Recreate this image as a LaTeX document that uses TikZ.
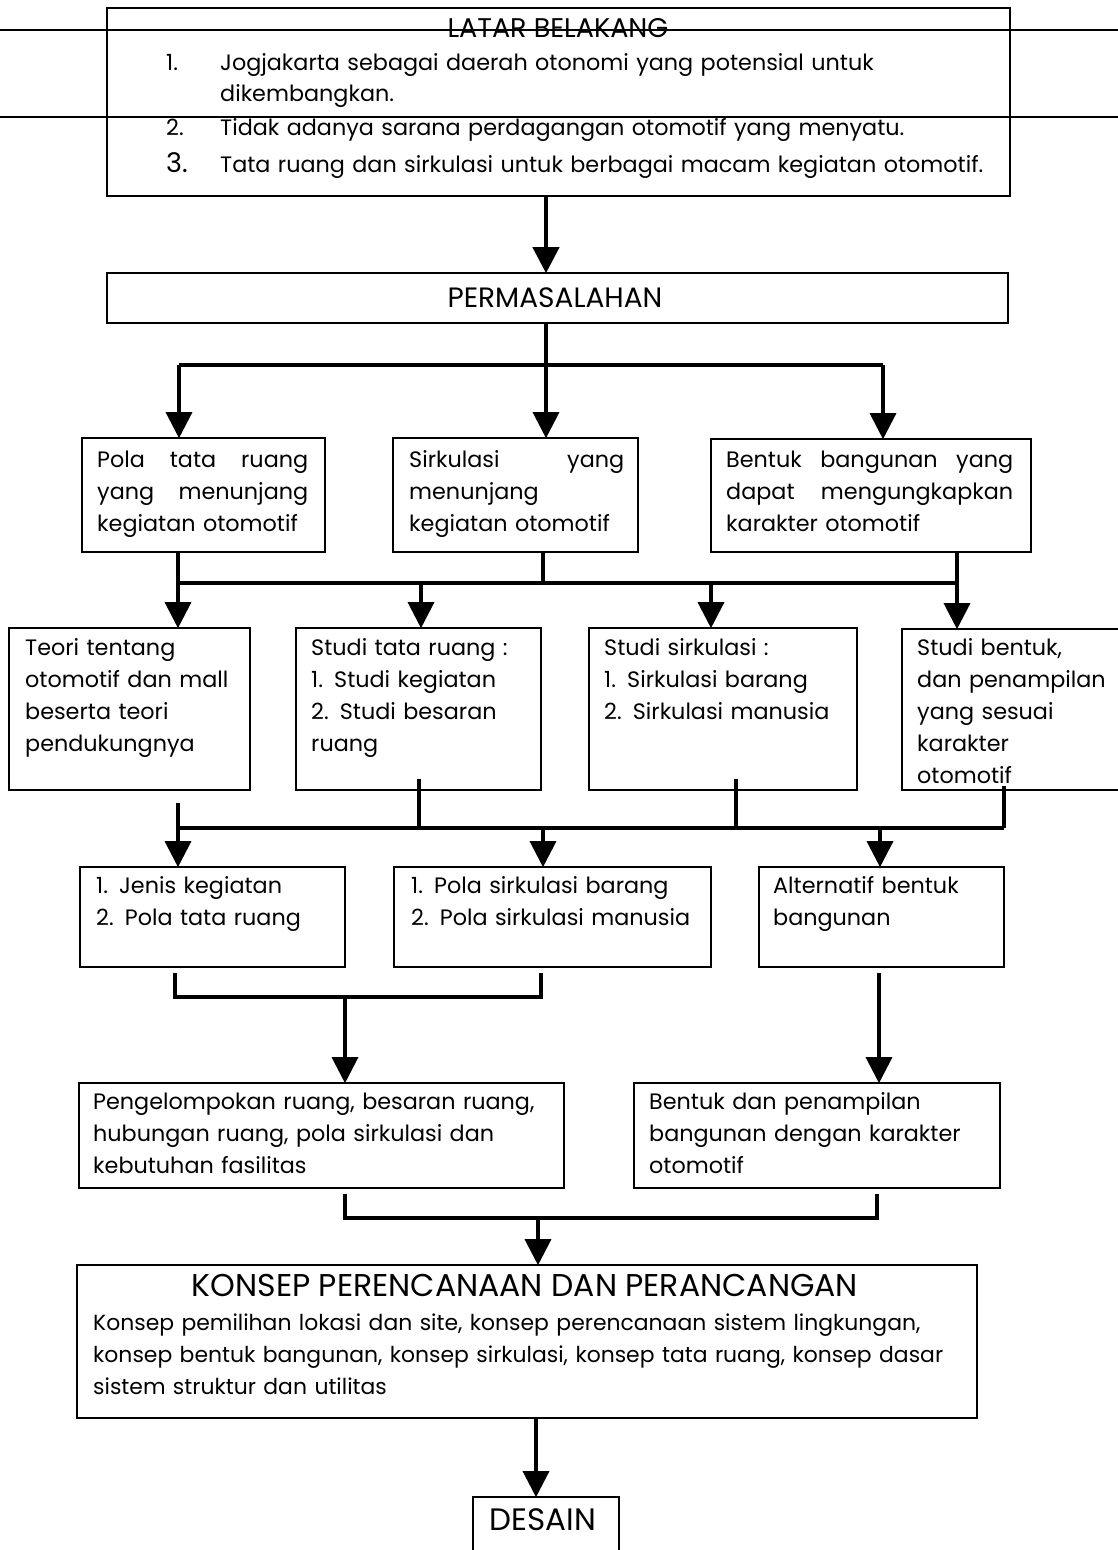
\documentclass[tikz,border=0pt]{standalone}
\usepackage{fontspec}
\setmainfont{Poppins}
\usetikzlibrary{arrows.meta,fit}
\tikzset{
  box/.style={draw, line width=1.6pt, inner sep=0pt},
  txt/.style={inner sep=0pt, anchor=base west, align=left, text width=#1,
    font=\fontsize{22.3}{32}\selectfont},
  txt/.default=1000pt,
  ttl/.style={inner sep=0pt, anchor=base, font=\fontsize{27}{30}\selectfont},
  conn/.style={line width=3.2pt},
  arr/.style={line width=3.2pt, -{Triangle[width=26pt,length=26pt]}, shorten >=-1pt},
}
\newcommand{\J}[1]{\leavevmode\makebox[\linewidth][l]{#1}}
\begin{document}
\begin{tikzpicture}[x=1pt,y=-1pt]
\useasboundingbox (0,0) rectangle (1118,1550);
\clip (0,0) rectangle (1118,1550);
\fill[white] (0,0) rectangle (1118,1550);

% ---------- boxes ----------
\node[box, fit={(107,8) (1010,196)}] (L) {};
\node[box, fit={(107,273) (1008,323)}] (P) {};
\node[box, fit={(82,438) (325,552)}] (A) {};
\node[box, fit={(393,438) (638,552)}] (B) {};
\node[box, fit={(711,439) (1031,552)}] (C) {};
\node[box, fit={(9,628) (250,790)}] (D) {};
\node[box, fit={(296,628) (541,790)}] (E) {};
\node[box, fit={(589,628) (857,790)}] (F) {};
\node[box, fit={(902,629) (1140,790)}] (G) {};
\node[box, fit={(80,867) (345,967)}] (H) {};
\node[box, fit={(394,867) (711,967)}] (I) {};
\node[box, fit={(759,867) (1004,967)}] (Jb) {};
\node[box, fit={(79,1083) (564,1188)}] (K) {};
\node[box, fit={(634,1083) (1000,1188)}] (Lb) {};
\node[box, fit={(77,1265) (977,1418)}] (M) {};
\node[box, fit={(473,1497) (619,1570)}] (N) {};

% scan lines across the top box
\draw[line width=1.1pt] (0,30) -- (1118,30);
\draw[line width=2.4pt] (0,117) -- (1118,117);

% ---------- texts ----------
\node[ttl] (Lt) at (558,37) {LATAR BELAKANG};
\node[txt] (L1n) at (166,70) {1.};
\node[txt] (L1) at (220,70) {Jogjakarta sebagai daerah otonomi yang potensial untuk\\[-1pt]dikembangkan.};
\node[txt] (L2n) at (166,135) {2.};
\node[txt] (L2) at (220,135) {Tidak adanya sarana perdagangan otomotif yang menyatu.};
\node[txt] (L3n) at (166,172) {\fontsize{27}{32}\selectfont 3.};
\node[txt] (L3) at (220,172) {Tata ruang dan sirkulasi untuk berbagai macam kegiatan otomotif.};

\node[ttl, font=\fontsize{28}{30}\selectfont] (Pt) at (555,307) {PERMASALAHAN};

\node[txt=211pt] (At) at (97,467) {\J{Pola\hfill tata\hfill ruang}\\\J{yang\hfill menunjang}\\kegiatan otomotif};
\node[txt=215pt] (Bt) at (409,467) {\J{Sirkulasi\hfill yang}\\menunjang\\kegiatan otomotif};
\node[txt=287pt] (Ct) at (726,467) {\J{Bentuk\hfill bangunan\hfill yang}\\\J{dapat\hfill mengungkapkan}\\karakter otomotif};

\node[txt] (Dt) at (25,655) {Teori tentang\\otomotif dan mall\\beserta teori\\pendukungnya};
\node[txt] (Et) at (311,655) {Studi tata ruang :\\1. Studi kegiatan\\2. Studi besaran\\ruang};
\node[txt] (Ft) at (604,655) {Studi sirkulasi :\\1. Sirkulasi barang\\2. Sirkulasi manusia};
\node[txt] (Gt) at (917,655) {Studi bentuk,\\dan penampilan\\yang sesuai\\karakter\\otomotif};

\node[txt] (Ht) at (96,893) {1. Jenis kegiatan\\2. Pola tata ruang};
\node[txt] (It) at (411,893) {1. Pola sirkulasi barang\\2. Pola sirkulasi manusia};
\node[txt] (Jt) at (773,893) {Alternatif bentuk\\bangunan};

\node[txt] (Kt) at (93,1109) {Pengelompokan ruang, besaran ruang,\\hubungan ruang, pola sirkulasi dan\\kebutuhan fasilitas};
\node[txt] (Lbt) at (649,1109) {Bentuk dan penampilan\\bangunan dengan karakter\\otomotif};

\node[ttl, font=\fontsize{31.5}{34}\selectfont] (Mt) at (525,1296) {KONSEP PERENCANAAN DAN PERANCANGAN};
\node[txt] (Mb) at (93,1330) {\fontsize{21.9}{32}\selectfont Konsep pemilihan lokasi dan site, konsep perencanaan sistem lingkungan,\\konsep bentuk bangunan, konsep sirkulasi, konsep tata ruang, konsep dasar\\sistem struktur dan utilitas};

\node[ttl, font=\fontsize{31}{34}\selectfont] (Nt) at (543,1530) {DESAIN};

% ---------- junction coordinates ----------
\coordinate (x546) at (546,0);
\coordinate (b1l) at (179,365);
\coordinate (b1r) at (883,365);
\coordinate (b2l) at (178,583);
\coordinate (b2b) at (543,583);
\coordinate (b2e) at (421,583);
\coordinate (b2f) at (711,583);
\coordinate (b2r) at (957,583);
\coordinate (s3) at (178,803);
\coordinate (b3l) at (178,828);
\coordinate (b3e) at (419,828);
\coordinate (b3i) at (543,828);
\coordinate (b3f) at (736,828);
\coordinate (b3j) at (880,828);
\coordinate (b3r) at (1004,828);
\coordinate (h1) at (175,973);
\coordinate (h2) at (175,997);
\coordinate (h3) at (541,997);
\coordinate (h4) at (541,973);
\coordinate (hm) at (345,997);
\coordinate (jr) at (879,973);
\coordinate (k1) at (345,1194);
\coordinate (k2) at (345,1218);
\coordinate (k3) at (877,1218);
\coordinate (k4) at (877,1194);
\coordinate (km) at (538,1218);
\coordinate (mx) at (536,0);

% ---------- connectors ----------
\draw[arr, line width=4.2pt] (L.south -| x546) -- (P.north -| x546);
\draw[arr] (P.south -| x546) -- (B.north -| x546);
\draw[conn] (b1l) -- (b1r);
\draw[arr] (b1l) -- (A.north -| b1l);
\draw[arr] (b1r) -- (C.north -| b1r);

\draw[conn] (A.south -| b2l) -- (b2l);
\draw[conn] (B.south -| b2b) -- (b2b);
\draw[conn] (C.south -| b2r) -- (b2r);
\draw[conn] (b2l) -- (b2r);
\draw[arr] (b2l) -- (D.north -| b2l);
\draw[arr] (b2e) -- (E.north -| b2e);
\draw[arr] (b2f) -- (F.north -| b2f);
\draw[arr] (b2r) -- (G.north -| b2r);

\draw[conn] ([yshift=12pt]E.south -| b3e) -- (b3e);
\draw[conn] ([yshift=12pt]F.south -| b3f) -- (b3f);
\draw[conn] ([yshift=5pt]G.south -| b3r) -- (b3r);
\draw[conn] (b3l) -- (b3r);
\draw[arr] (s3) -- (H.north -| s3);
\draw[arr] (b3i) -- (I.north -| b3i);
\draw[arr] (b3j) -- (Jb.north -| b3j);

\draw[conn, line join=miter] (h1) -- (h2) -- (h3) -- (h4);
\draw[arr] (hm) -- (K.north -| hm);
\draw[arr] (jr) -- (Lb.north -| jr);

\draw[conn, line join=miter] (k1) -- (k2) -- (k3) -- (k4);
\draw[arr] (km) -- (M.north -| km);

\draw[arr] (M.south -| mx) -- (N.north -| mx);
\end{tikzpicture}
\end{document}
